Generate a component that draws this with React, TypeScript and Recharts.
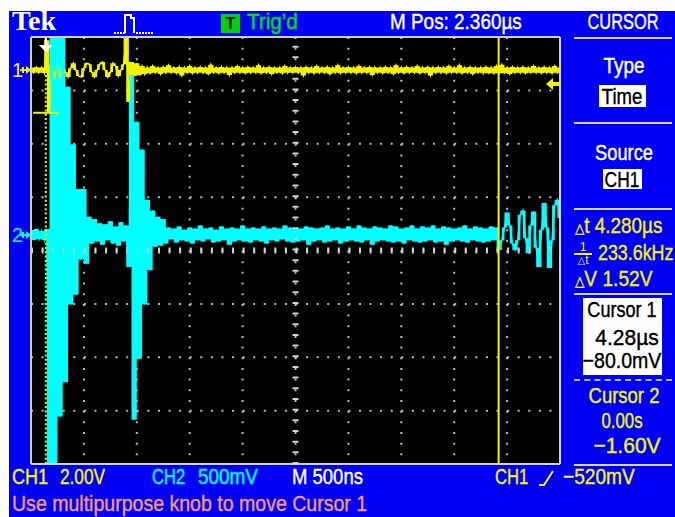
import React from 'react';
import {
  ComposedChart, Line, Area, XAxis, YAxis, CartesianGrid, ReferenceLine, ReferenceDot,
} from 'recharts';

// time base: 500 ns/div, M Pos 2.360 µs at the centre -> left edge at -0.14 µs
const T_LEFT = -0.14;
const T_RIGHT = 4.86;
const SAMPLE_US = 0.025;

// CH1 (2.00 V/div), volts, one sample every 25 ns from the left edge
const ch1Volts = [
  0.1, -0.1, 0.11, -0.1, 0.1, -0.11, 1.12, -1.57, 0.2, -0.3,
  0.3, -0.3, 0.1, -0.08, -0.26, 0.07, 0.26, 0, -0.22, -0.26,
  0.07, 0.26, 0.22, -0.08, -0.26, 0, 0.22, 0.3, 0, -0.26,
  -0.08, 0.26, 0.15, -0.22, 0, 0.22, 1.2, -1.2, 0.3, -0.22,
  0.26, -0.19, 0.15, -0.15,
  0.1, -0.12, 0.15, -0.1, 0.1, -0.15, 0.12, -0.1, 0.18, -0.1,
  0.1, -0.12, 0.12, -0.2, 0.1, -0.1, 0.15, -0.12, 0.1, -0.1,
  0.12, -0.1, 0.1, -0.15, 0.2, -0.1, 0.1, -0.12, 0.12, -0.1,
  0.1, -0.18, 0.1, -0.1, 0.15, -0.1, 0.1, -0.12, 0.12, -0.1,
  0.1, -0.1, 0.18, -0.12, 0.1, -0.1, 0.12, -0.15, 0.1, -0.1,
  0.1, -0.12, 0.15, -0.1, 0.1, -0.1, 0.12, -0.1, 0.1, -0.2,
  0.12, -0.1, 0.1, -0.12, 0.15, -0.1, 0.1, -0.1, 0.12, -0.15,
  0.1, -0.1, 0.18, -0.12, 0.1, -0.1, 0.12, -0.1, 0.1, -0.12,
  0.15, -0.1, 0.1, -0.1, 0.12, -0.18, 0.1, -0.1, 0.1, -0.12,
  0.12, -0.1, 0.1, -0.15, 0.18, -0.1, 0.1, -0.12, 0.12, -0.1,
  0.1, -0.1, 0.15, -0.12, 0.1, -0.1, 0.12, -0.2, 0.1, -0.1,
  0.12, -0.1, 0.1, -0.12, 0.15, -0.1, 0.1, -0.1, 0.18, -0.12,
  0.1, -0.1, 0.12, -0.15, 0.1, -0.1, 0.1, -0.12, 0.12, -0.1,
  0.1, -0.12, 0.15, -0.1, 0.2, -0.1, 0.1, -0.15, 0.12, -0.1,
  0.1, -0.1, 0.12, -0.12, 0.1, -0.1, 0.15, -0.1, 0.1, -0.12,
  0.12, -0.1, 0.1, -0.12, 0.15, -0.1, 0.1,
];

// CH2 (500 mV/div), millivolts, same sample times
const ch2MilliVolts = [
  47, -47, 56, -37, 37, -47, 56, -2400, 2100, -2400,
  2100, -1700, 2100, -1380, 1390, -650, 850, -560, 430, -230,
  430, -270, 170, -80, 150, -60, 110, -90, 100, -50,
  130, -80, 80, -100, 120, -60, 90, -300, 1500, -1730,
  1060, -1160, 800, -650, 330, -330, 230, -110, 170, -100,
  150, -80,
  70, -40, 60, -70, 80, -50, 50, -60, 70, -80,
  60, -50, 90, -60, 60, -40, 70, -70, 50, -60,
  80, -50, 60, -90, 70, -60, 60, -50, 90, -60,
  60, -70, 70, -50, 60, -60, 80, -80, 60, -50,
  70, -60, 60, -40, 90, -60, 70, -70, 60, -60,
  60, -50, 80, -90, 70, -60, 60, -50, 70, -70,
  90, -60, 60, -50, 70, -80, 60, -60, 80, -50,
  60, -60, 90, -70, 70, -50, 60, -90, 80, -60,
  70, -50, 60, -60, 90, -70, 80, -60, 60, -80,
  70, -50, 90, -60, 60, -70, 80, -60, 70, -50,
  90, -70, 60, -60, 80, -90, 70, -60, 60, -50,
  70, -60, 90, -70, 60, -50, 80, -60, 70, -70,
  60, -60, 80, -50, 70,
  -140, -50, 70, 210, 90, -80, -140, -50, 190, 230,
  -30, -170, 90, 220, -120, -300, 50, 300, 70, -310,
  -50, 280, 330, 160,
];

// channel scales: volts per division and ground marker position in divisions above centre
const CH1_V_PER_DIV = 2;
const CH1_GROUND_DIV = 3.38;
const CH2_MV_PER_DIV = 500;
const CH2_GROUND_DIV = 0.29;

const cursor1Us = 4.28;
const cursor1V = -0.08;
const cursor2Us = 0;
const cursor2V = -1.6;
const triggerLevelV = -0.52;

// each sample also carries the span to the next one, so the persistence band is filled
const span = (arr: number[], i: number) => {
  const next = i + 1 < arr.length ? arr[i + 1] : arr[i];
  return [Math.min(arr[i], next), Math.max(arr[i], next)];
};

const data = ch1Volts.map((v, i) => ({
  t: +(T_LEFT + i * SAMPLE_US).toFixed(3),
  ch1: v,
  ch2: ch2MilliVolts[i],
  ch1Band: span(ch1Volts, i),
  ch2Band: span(ch2MilliVolts, i),
}));

const majorX = Array.from({ length: 11 }, (_, i) => +(T_LEFT + i * 0.5).toFixed(3));
const minorX = Array.from({ length: 51 }, (_, i) => +(T_LEFT + i * 0.1).toFixed(3));
const majorY = [-4, -3, -2, -1, 0, 1, 2, 3, 4];
const minorY = Array.from({ length: 41 }, (_, i) => +(-4 + i * 0.2).toFixed(2));

const ch1Domain = [(-4 - CH1_GROUND_DIV) * CH1_V_PER_DIV, (4 - CH1_GROUND_DIV) * CH1_V_PER_DIV];
const ch2Domain = [(-4 - CH2_GROUND_DIV) * CH2_MV_PER_DIV, (4 - CH2_GROUND_DIV) * CH2_MV_PER_DIV];

const BLUE = '#0000f5';
const YEL = '#f4f400';
const CYAN = '#00ffff';
const GRAT = '#d2d2d2';
const DOTS = '#bcbcbc';
const WHITE = '#ffffff';
const FONT = "'Liberation Sans', Arial, sans-serif";

function Txt({ x, y, color = WHITE, size = 22, sx = 0.86, children, center, w = 140 }: any) {
  const k = sx * 0.955;
  const style: React.CSSProperties = {
    position: 'absolute', top: y - 3, fontFamily: FONT, fontSize: size, lineHeight: `${size}px`,
    color, whiteSpace: 'nowrap', transform: `scaleX(${k})`,
    WebkitTextStroke: `0.4px ${color}`,
  };
  if (center) {
    style.left = x - w / 2; style.width = w; style.textAlign = 'center'; style.transformOrigin = '50% 0';
  } else {
    style.left = x; style.transformOrigin = '0 0';
  }
  return <div style={style}>{children}</div>;
}

const Tri = () => <span style={{ fontFamily: "'DejaVu Sans'", fontSize: 14 }}>△</span>;

function ChannelMark({ cx, cy, label, color }: any) {
  return (
    <g>
      <text x={cx - 19} y={cy + 7} fill={color} fontFamily={FONT} fontSize={20}>{label}</text>
      <line x1={cx - 11} y1={cy} x2={cx} y2={cy} stroke={color} strokeWidth={2} />
      <line x1={cx - 8} y1={cy - 3} x2={cx - 8} y2={cy + 3} stroke={color} strokeWidth={2} />
      <polygon points={`${cx - 5},${cy - 4} ${cx},${cy} ${cx - 5},${cy + 4}`} fill={color} />
    </g>
  );
}

function TrigPosArrow({ cx, cy }: any) {
  return (
    <g fill={WHITE}>
      <rect x={cx - 1} y={cy + 1} width={2} height={8} />
      <polygon points={`${cx - 7},${cy + 8} ${cx + 7},${cy + 8} ${cx},${cy + 15}`} />
    </g>
  );
}

function TrigLevelArrow({ cx, cy }: any) {
  return (
    <g fill={YEL}>
      <polygon points={`${cx - 14},${cy} ${cx - 7},${cy - 6} ${cx - 7},${cy + 6}`} />
      <rect x={cx - 8} y={cy - 2} width={8} height={4} />
    </g>
  );
}

function PulseIcon() {
  return (
    <svg style={{ position: 'absolute', left: 112, top: 12 }} width={44} height={24}>
      <path d="M13 21 V3 H19 V6 H22 V21" stroke={WHITE} strokeWidth={2} fill="none" />
      {[2, 5, 8, 11, 24, 27, 30, 33, 36, 39].map(x => (
        <rect key={x} x={x} y={20} width={2} height={2} fill={WHITE} />
      ))}
    </svg>
  );
}

function Sep({ y, dashed }: any) {
  return (
    <div style={{
      position: 'absolute', left: 574, top: y - 1, width: 98, height: 0,
      borderTop: `2px ${dashed ? 'dashed' : 'solid'} ${dashed ? '#b0c0ff' : '#d8d8d8'}`,
    }} />
  );
}

function Box({ x, y, w, h }: any) {
  return <div style={{ position: 'absolute', left: x, top: y, width: w, height: h, background: WHITE }} />;
}

const edgeAxis = {
  mirror: true, type: 'number' as const, interval: 0, tick: false, tickSize: 5, allowDataOverflow: true,
  tickLine: { stroke: GRAT, strokeWidth: 2 }, axisLine: { stroke: GRAT, strokeWidth: 2 },
};

export default function App() {
  return (
    <div style={{ position: 'absolute', left: 0, top: 0, width: 675, height: 517, background: WHITE, overflow: 'hidden' }}>
      <div style={{ position: 'absolute', left: 9, top: 11, width: 666, height: 506, background: BLUE }} />
      <div style={{ position: 'absolute', left: 31, top: 37, width: 529, height: 427, background: '#000' }} />

      <div style={{ position: 'absolute', left: 0, top: 0 }}>
        <ComposedChart width={675} height={517} data={data}
          margin={{ top: 37, left: 31, right: 115, bottom: 53 }}>
          <XAxis xAxisId="t" dataKey="t" type="number" domain={[T_LEFT, T_RIGHT]} ticks={majorX}
            interval={0} hide allowDataOverflow />
          <XAxis xAxisId="edgeTop" orientation="top" domain={[T_LEFT, T_RIGHT]} ticks={minorX} {...edgeAxis} />
          <XAxis xAxisId="edgeBottom" orientation="bottom" domain={[T_LEFT, T_RIGHT]} ticks={minorX} {...edgeAxis} />
          <YAxis yAxisId="div" type="number" domain={[-4, 4]} ticks={majorY} interval={0} hide allowDataOverflow />
          <YAxis yAxisId="edgeLeft" orientation="left" domain={[-4, 4]} ticks={minorY} {...edgeAxis} />
          <YAxis yAxisId="edgeRight" orientation="right" domain={[-4, 4]} ticks={minorY} {...edgeAxis} />
          <YAxis yAxisId="ch1" type="number" domain={ch1Domain} hide allowDataOverflow />
          <YAxis yAxisId="ch2" type="number" domain={ch2Domain} hide allowDataOverflow />

          <CartesianGrid xAxisId="t" yAxisId="div" horizontal={false}
            stroke={DOTS} strokeWidth={2} strokeDasharray="2 8.675" />
          <CartesianGrid xAxisId="t" yAxisId="div" vertical={false}
            stroke={DOTS} strokeWidth={2} strokeDasharray="2 8.58" />

          {/* centre cross with minor ticks */}
          <ReferenceLine xAxisId="t" yAxisId="div" y={0} stroke={GRAT} strokeWidth={6} strokeDasharray="2 8.58" />
          <ReferenceLine xAxisId="t" yAxisId="div" x={(T_LEFT + T_RIGHT) / 2} stroke={GRAT} strokeWidth={6} strokeDasharray="2 8.675" />

          <Area xAxisId="t" yAxisId="ch1" dataKey="ch1Band" type="stepAfter" fill={YEL} fillOpacity={1}
            stroke="none" isAnimationActive={false} />
          <Line xAxisId="t" yAxisId="ch1" dataKey="ch1" type="linear" stroke={YEL} strokeWidth={1.6}
            dot={false} isAnimationActive={false} />
          <Area xAxisId="t" yAxisId="ch2" dataKey="ch2Band" type="stepAfter" fill={CYAN} fillOpacity={1}
            stroke="none" isAnimationActive={false} />
          <Line xAxisId="t" yAxisId="ch2" dataKey="ch2" type="linear" stroke={CYAN} strokeWidth={1.6}
            dot={false} isAnimationActive={false} />

          {/* cursors */}
          <ReferenceLine xAxisId="t" yAxisId="div" x={cursor1Us} stroke={YEL} strokeWidth={2} />
          <ReferenceLine xAxisId="t" yAxisId="div" x={cursor2Us} stroke={YEL} strokeWidth={2} strokeDasharray="2 2.3" />
          <ReferenceLine xAxisId="t" yAxisId="ch1" stroke={YEL} strokeWidth={2}
            segment={[{ x: cursor2Us - 0.12, y: cursor2V }, { x: cursor2Us + 0.12, y: cursor2V }]} />
          <ReferenceLine xAxisId="t" yAxisId="ch1" stroke={YEL} strokeWidth={2}
            segment={[{ x: cursor1Us - 0.12, y: cursor1V }, { x: cursor1Us + 0.12, y: cursor1V }]} />

          <ReferenceDot xAxisId="t" yAxisId="div" x={0} y={4} r={1}
            shape={(p: any) => <TrigPosArrow cx={p.cx} cy={p.cy} />} />
          <ReferenceDot xAxisId="t" yAxisId="ch1" x={T_RIGHT} y={triggerLevelV} r={1}
            shape={(p: any) => <TrigLevelArrow cx={p.cx} cy={p.cy} />} />
          <ReferenceDot xAxisId="t" yAxisId="ch1" x={T_LEFT} y={0} r={1}
            shape={(p: any) => <ChannelMark cx={p.cx} cy={p.cy} label="1" color={YEL} />} />
          <ReferenceDot xAxisId="t" yAxisId="ch2" x={T_LEFT} y={0} r={1}
            shape={(p: any) => <ChannelMark cx={p.cx} cy={p.cy} label="2" color={CYAN} />} />
        </ComposedChart>
      </div>

      {/* header */}
      <div style={{ position: 'absolute', left: 12, top: 7, fontFamily: "'Liberation Serif', serif",
        fontWeight: 'bold', fontSize: 28, lineHeight: '28px', color: WHITE }}>Tek</div>
      <PulseIcon />
      <div style={{ position: 'absolute', left: 221, top: 14, width: 19, height: 19, background: '#00d400',
        fontFamily: FONT, fontWeight: 'bold', fontSize: 16, lineHeight: '19px', textAlign: 'center', color: '#000' }}>T</div>
      <Txt x={247} y={14} color="#00e000" sx={0.98}>Trig’d</Txt>
      <Txt x={390} y={14} sx={0.9}>M Pos: 2.360µs</Txt>

      {/* side menu */}
      <Txt x={623} y={14} center sx={0.78}>CURSOR</Txt>
      <Sep y={38} />
      <Txt x={624} y={58} center sx={0.9}>Type</Txt>
      <Box x={599} y={85} w={47} h={22} />
      <Txt x={622} y={89} center color="#000" sx={0.88}>Time</Txt>
      <Sep y={123} />
      <Txt x={624} y={145} center sx={0.87}>Source</Txt>
      <Box x={603} y={169} w={39} h={20} />
      <Txt x={622} y={172} center color="#000" sx={0.83}>CH1</Txt>
      <Sep y={209} />
      <Txt x={575} y={218} color={YEL} sx={0.9}><Tri />t 4.280µs</Txt>
      <div style={{ position: 'absolute', left: 574, top: 243, width: 18, fontFamily: FONT, fontSize: 12,
        lineHeight: '9px', color: YEL, textAlign: 'center' }}>
        <div>1</div>
        <div style={{ borderTop: `2px solid ${YEL}`, marginTop: 1, paddingTop: 1 }}>
          <span style={{ fontFamily: "'DejaVu Sans'", fontSize: 10 }}>△</span>t
        </div>
      </div>
      <Txt x={598} y={245} color={YEL} sx={0.85}>233.6kHz</Txt>
      <Txt x={575} y={271} color={YEL} sx={0.91}><Tri />V 1.52V</Txt>
      <Sep y={294} />
      <Box x={583} y={298} w={79} h={77} />
      <Txt x={622} y={302} center color="#000" sx={0.86}>Cursor 1</Txt>
      <Txt x={627} y={330} center color="#000" sx={1}>4.28µs</Txt>
      <Txt x={622} y={353} center color="#000" sx={0.93}>−80.0mV</Txt>
      <Sep y={380} dashed />
      <Txt x={624} y={388} center color={YEL} sx={0.88}>Cursor 2</Txt>
      <Txt x={622} y={413} center color={YEL} sx={0.8}>0.00s</Txt>
      <Txt x={627} y={438} center color={YEL} sx={1}>−1.60V</Txt>
      <Sep y={465} />

      {/* bottom status */}
      <Txt x={12} y={469} color={YEL}>CH1</Txt>
      <Txt x={60} y={469} color={YEL} sx={0.82}>2.00V</Txt>
      <Txt x={152} y={469} color={CYAN} sx={0.79}>CH2</Txt>
      <Txt x={198} y={469} color={CYAN} sx={0.9}>500mV</Txt>
      <Txt x={292} y={469} sx={0.88}>M 500ns</Txt>
      <Txt x={495} y={469} color={YEL} sx={0.79}>CH1</Txt>
      <svg style={{ position: 'absolute', left: 538, top: 469 }} width={18} height={18}>
        <path d="M1 16 H6 L15 2" stroke={YEL} strokeWidth={2} fill="none" />
      </svg>
      <Txt x={563} y={469} color={YEL} sx={0.91}>−520mV</Txt>
      <Txt x={12} y={496} color="#f49a70" sx={0.93}>Use multipurpose knob to move Cursor 1</Txt>
    </div>
  );
}
